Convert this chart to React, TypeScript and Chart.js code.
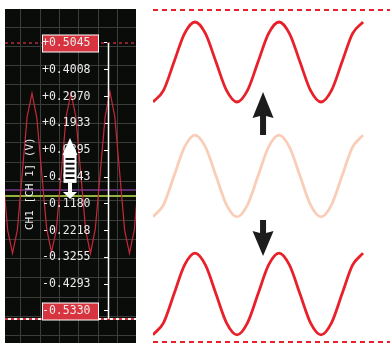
import React, { useEffect, useRef } from "react";
import { Chart, registerables } from "chart.js";

Chart.register(...registerables);

// ---------- left panel: scope screen ----------
const scopeTime = [-0.945, -0.69, -0.44, -0.19, 0.065, 0.32, 0.57, 0.82, 1.075, 1.33, 1.58, 1.83, 2.085, 2.34, 2.59, 2.84, 3.095, 3.35, 3.6, 3.85, 4.105, 4.36, 4.61, 4.86, 5.115, 5.37, 5.62, 5.87, 6.125];
const scopeVolts = [0.0, -0.22, -0.31, -0.22, 0.0, 0.22, 0.31, 0.215, 0.0, -0.215, -0.305, -0.22, 0.0, 0.22, 0.31, 0.22, 0.0, -0.22, -0.31, -0.215, 0.0, 0.22, 0.315, 0.22, 0.0, -0.22, -0.31, -0.22, 0.0];
const voltTicks = [0.5045, 0.4008, 0.297, 0.1933, 0.0895, -0.0143, -0.118, -0.2218, -0.3255, -0.4293, -0.533];
const timeDivs = [0, 1, 2, 3, 4, 5];
const vertDivs = [0, 1, 2, 3, 4, 5, 6, 7, 8, 9, 10, 11, 12, 13, 14, 15, 16];
const upperLimit = 0.5045;
const lowerLimit = -0.564;
const triggerLevels = [-0.0646, -0.0878];
const triggerColors = ["#5a2c6c", "#93b23e"];
const axisDiv = 4.51;
const labelDiv = 3.6;
const channelLabel = "CH1 [CH 1] (V)";
const labelFont = '"DejaVu Sans Mono", monospace';

// ---------- right panel: shifted waveforms ----------
const waveX = [0, 1, 2, 3, 4, 5, 6, 7, 8, 9, 10, 11, 12, 13, 14, 15, 16, 17, 18, 19, 20];
const topWave = [1.85, 2.14, 2.85, 3.56, 3.85, 3.56, 2.85, 2.14, 1.85, 2.14, 2.85, 3.56, 3.85, 3.56, 2.85, 2.14, 1.85, 2.14, 2.85, 3.56, 3.85];
const middleWave = [-1.02, -0.72, 0, 0.72, 1.02, 0.72, 0, -0.72, -1.02, -0.72, 0, 0.72, 1.02, 0.72, 0, -0.72, -1.02, -0.72, 0, 0.72, 1.02];
const bottomWave = [-3.97, -3.67, -2.95, -2.23, -1.93, -2.23, -2.95, -3.67, -3.97, -3.67, -2.95, -2.23, -1.93, -2.23, -2.95, -3.67, -3.97, -3.67, -2.95, -2.23, -1.93];
const rangeLines = [4.15, -4.15];
const arrowX = 10.48;

const fmt = (v: number) => (v >= 0 ? "+" + v.toFixed(4) : v.toFixed(4));

const leftDecor = {
  id: "leftDecor",
  beforeDraw(chart: any) {
    const { ctx, width, height } = chart;
    ctx.save();
    ctx.fillStyle = "#0a0c0a";
    ctx.fillRect(0, 0, width, height);
    ctx.restore();
  },
  beforeDatasetsDraw(chart: any) {
    const { ctx, chartArea, scales } = chart;
    const v = scales.v;
    const { left, right } = chartArea;
    ctx.save();
    triggerLevels.forEach((lvl, i) => {
      const y = Math.round(v.getPixelForValue(lvl));
      ctx.strokeStyle = triggerColors[i];
      ctx.lineWidth = 2;
      ctx.beginPath();
      ctx.moveTo(left, y);
      ctx.lineTo(right, y);
      ctx.stroke();
    });
    let y = Math.round(v.getPixelForValue(upperLimit));
    ctx.strokeStyle = "#8a2030";
    ctx.lineWidth = 2;
    ctx.setLineDash([3, 3]);
    ctx.beginPath();
    ctx.moveTo(left, y);
    ctx.lineTo(right, y);
    ctx.stroke();
    y = Math.round(v.getPixelForValue(lowerLimit));
    ctx.setLineDash([]);
    ctx.strokeStyle = "#f4f4f4";
    ctx.beginPath();
    ctx.moveTo(left, y);
    ctx.lineTo(right, y);
    ctx.stroke();
    ctx.setLineDash([3, 3]);
    ctx.strokeStyle = "#d8343f";
    ctx.beginPath();
    ctx.moveTo(left, y);
    ctx.lineTo(right, y);
    ctx.stroke();
    ctx.restore();
  },
  afterDatasetsDraw(chart: any) {
    const { ctx, scales } = chart;
    const { x, v } = scales;
    const ax = Math.round(x.getPixelForValue(axisDiv)) + 0.5;
    ctx.save();
    ctx.strokeStyle = "#ffffff";
    ctx.lineWidth = 1.5;
    ctx.beginPath();
    ctx.moveTo(ax, v.getPixelForValue(upperLimit));
    ctx.lineTo(ax, v.getPixelForValue(lowerLimit));
    ctx.stroke();
    [voltTicks[0], voltTicks[voltTicks.length - 1]].forEach((val) => {
      const cy = Math.round(v.getPixelForValue(val)) + 0.5;
      ctx.fillStyle = "#d8343f";
      ctx.fillRect(ax - 66, cy - 8.5, 56, 17);
      ctx.strokeStyle = "#ffffff";
      ctx.lineWidth = 1;
      ctx.strokeRect(ax - 66, cy - 8.5, 56, 17);
    });
    ctx.restore();
  },
  afterDraw(chart: any) {
    const { ctx, scales } = chart;
    const { x, v } = scales;
    ctx.save();
    ctx.translate(x.getPixelForValue(0.47), v.getPixelForValue(-0.04));
    ctx.rotate(-Math.PI / 2);
    ctx.fillStyle = "#eeeeee";
    ctx.font = "11px " + labelFont;
    ctx.textAlign = "center";
    ctx.textBaseline = "middle";
    ctx.fillText(channelLabel, 0, 0);
    ctx.restore();
    const cx = x.getPixelForValue(2.54);
    const yTip = v.getPixelForValue(0.137);
    const yHead = v.getPixelForValue(0.071);
    const yBody = v.getPixelForValue(-0.037);
    const yShaft = v.getPixelForValue(-0.072);
    const yTip2 = v.getPixelForValue(-0.099);
    ctx.save();
    ctx.fillStyle = "#ffffff";
    ctx.beginPath();
    ctx.moveTo(cx, yTip);
    ctx.lineTo(cx + 7.5, yHead);
    ctx.lineTo(cx - 7.5, yHead);
    ctx.closePath();
    ctx.fill();
    ctx.fillRect(cx - 6.5, yHead - 0.5, 13, yBody - yHead + 0.5);
    ctx.fillRect(cx - 2, yBody, 4, yShaft - yBody + 0.5);
    ctx.beginPath();
    ctx.moveTo(cx - 7, yShaft);
    ctx.lineTo(cx + 7, yShaft);
    ctx.lineTo(cx, yTip2);
    ctx.closePath();
    ctx.fill();
    ctx.fillStyle = "#111111";
    const span = yBody - yHead;
    for (let i = 0; i < 5; i++) {
      const yy = yHead + 3 + (i * (span - 6)) / 4.6;
      ctx.fillRect(cx - 4.5, yy, 9, 2);
    }
    ctx.restore();
  },
};

const rightDecor = {
  id: "rightDecor",
  afterDatasetsDraw(chart: any) {
    const { ctx, scales } = chart;
    const { x, y } = scales;
    const ax = x.getPixelForValue(arrowX);
    ctx.save();
    ctx.fillStyle = "#1c1c1c";
    let tip = y.getPixelForValue(2.1);
    let base = y.getPixelForValue(1.5);
    let end = y.getPixelForValue(1.025);
    ctx.beginPath();
    ctx.moveTo(ax, tip);
    ctx.lineTo(ax + 10.5, base + 2);
    ctx.lineTo(ax + 3, base);
    ctx.lineTo(ax + 3, end);
    ctx.lineTo(ax - 3, end);
    ctx.lineTo(ax - 3, base);
    ctx.lineTo(ax - 10.5, base + 2);
    ctx.closePath();
    ctx.fill();
    tip = y.getPixelForValue(-2.0);
    base = y.getPixelForValue(-1.425);
    end = y.getPixelForValue(-1.1);
    ctx.beginPath();
    ctx.moveTo(ax, tip);
    ctx.lineTo(ax + 10.5, base - 2);
    ctx.lineTo(ax + 3, base);
    ctx.lineTo(ax + 3, end);
    ctx.lineTo(ax - 3, end);
    ctx.lineTo(ax - 3, base);
    ctx.lineTo(ax - 10.5, base - 2);
    ctx.closePath();
    ctx.fill();
    ctx.restore();
  },
};

const zeroPad = (s: any) => {
  s.paddingTop = 0;
  s.paddingBottom = 0;
  s.paddingLeft = 0;
  s.paddingRight = 0;
};

export default function App() {
  const leftRef = useRef<HTMLCanvasElement>(null);
  const rightRef = useRef<HTMLCanvasElement>(null);

  useEffect(() => {
    const vMin = -0.6569;
    const vMax = 0.6361;
    const left = new Chart(leftRef.current as HTMLCanvasElement, {
      type: "line",
      data: {
        datasets: [
          {
            data: scopeTime.map((t, i) => ({ x: t, y: scopeVolts[i] })),
            xAxisID: "x",
            yAxisID: "v",
            borderColor: "#c8283a",
            borderWidth: 1.2,
            pointRadius: 0,
            tension: 0,
          },
        ],
      },
      options: {
        responsive: false,
        animation: false,
        layout: { padding: 0, autoPadding: false },
        plugins: { legend: { display: false }, tooltip: { enabled: false } },
        scales: {
          x: {
            type: "linear",
            min: -0.829,
            max: 5.959,
            afterBuildTicks: (s: any) => {
              s.ticks = timeDivs.map((d) => ({ value: d }));
            },
            afterFit: (s: any) => {
              s.height = 0;
              zeroPad(s);
            },
            grid: { color: "#3a3d3a", lineWidth: 1, drawTicks: false },
            border: { display: false },
            ticks: { display: false },
          },
          g: {
            type: "linear",
            axis: "y",
            position: "left",
            reverse: true,
            min: -0.933,
            max: 16.37,
            afterBuildTicks: (s: any) => {
              s.ticks = vertDivs.map((d) => ({ value: d }));
            },
            afterFit: (s: any) => {
              s.width = 0;
              zeroPad(s);
            },
            grid: { color: "#3a3d3a", lineWidth: 1, drawTicks: false },
            border: { display: false },
            ticks: { display: false },
          },
          v: {
            type: "linear",
            axis: "y",
            position: { x: labelDiv },
            min: vMin,
            max: vMax,
            afterBuildTicks: (s: any) => {
              s.ticks = voltTicks.map((d) => ({ value: d }));
            },
            afterFit: zeroPad,
            grid: { display: false },
            border: { display: false },
            ticks: {
              z: 1,
              autoSkip: false,
              padding: 0,
              color: "#ececec",
              font: { family: labelFont, size: 11.5 },
              callback: (val: any) => fmt(Number(val)),
            },
          },
          vt: {
            type: "linear",
            axis: "y",
            position: { x: axisDiv },
            min: vMin,
            max: vMax,
            afterBuildTicks: (s: any) => {
              s.ticks = voltTicks.map((d) => ({ value: d }));
            },
            afterFit: zeroPad,
            grid: { drawOnChartArea: false, drawTicks: true, tickLength: 4, color: "#ffffff", lineWidth: 1 },
            border: { display: false },
            ticks: { display: false },
          },
        },
      } as any,
      plugins: [leftDecor],
    });

    const right = new Chart(rightRef.current as HTMLCanvasElement, {
      type: "line",
      data: {
        datasets: [
          { data: waveX.map((t, i) => ({ x: t, y: topWave[i] })), borderColor: "#e8202a" },
          { data: waveX.map((t, i) => ({ x: t, y: middleWave[i] })), borderColor: "#f9cdb8" },
          { data: waveX.map((t, i) => ({ x: t, y: bottomWave[i] })), borderColor: "#e8202a" },
        ].map((d) => ({ ...d, borderWidth: 2.8, pointRadius: 0, cubicInterpolationMode: "monotone", clip: false })),
      },
      options: {
        responsive: false,
        animation: false,
        layout: { padding: 0, autoPadding: false },
        plugins: { legend: { display: false }, tooltip: { enabled: false } },
        scales: {
          x: { type: "linear", min: 0, max: 22.57, display: false },
          y: {
            type: "linear",
            min: -4.175,
            max: 4.4,
            afterBuildTicks: (s: any) => {
              s.ticks = rangeLines.map((d) => ({ value: d }));
            },
            afterFit: (s: any) => {
              s.width = 0;
              zeroPad(s);
            },
            grid: { color: "#e8202a", lineWidth: 2, drawTicks: false },
            border: { display: false, dash: [5, 4] },
            ticks: { display: false },
          },
        },
      } as any,
      plugins: [rightDecor],
    });

    return () => {
      left.destroy();
      right.destroy();
    };
  }, []);

  return (
    <div style={{ position: "fixed", left: 0, top: 0, width: 390, height: 343, background: "#ffffff", overflow: "hidden" }}>
      <canvas ref={leftRef} width={131} height={334} style={{ position: "absolute", left: 5, top: 9, width: 131, height: 334 }} />
      <canvas ref={rightRef} width={237} height={343} style={{ position: "absolute", left: 153, top: 0, width: 237, height: 343 }} />
    </div>
  );
}
